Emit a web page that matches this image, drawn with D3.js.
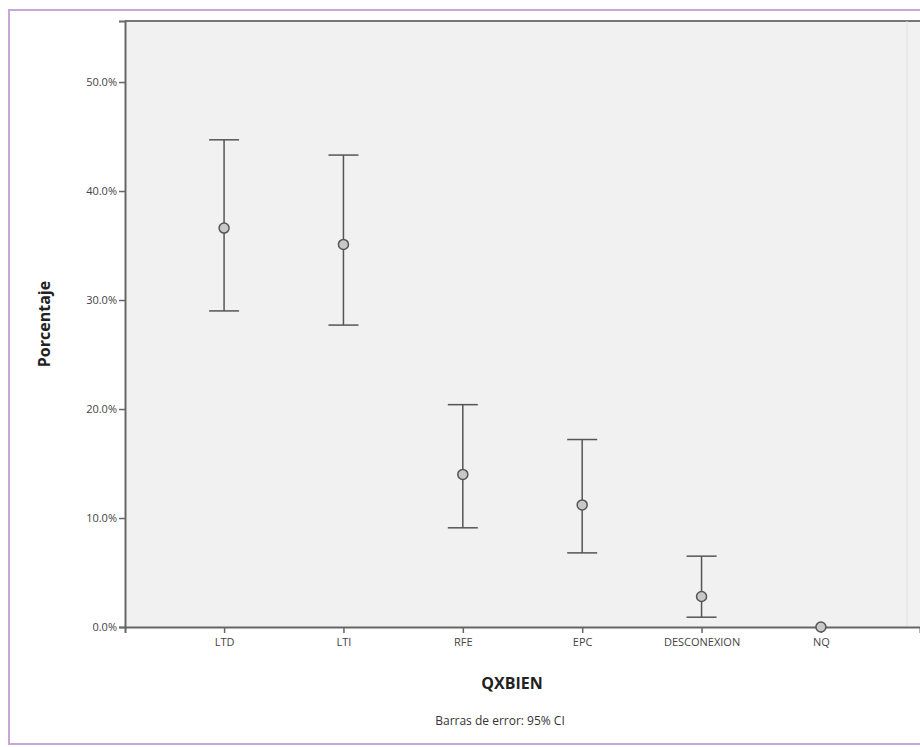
<!DOCTYPE html>
<html>
<head>
<meta charset="utf-8">
<script src="https://cdn.jsdelivr.net/npm/d3@7"></script>
<style>
  body { margin: 0; background: #fff; }
  svg { display: block; font-family: "Open Sans", sans-serif; }
</style>
</head>
<body>
<svg id="chart" width="920" height="747"></svg>
<script>
// data (percent)
const categories = ["LTD", "LTI", "RFE", "EPC", "DESCONEXION", "NQ"];
const means = [36.6, 35.1, 14.0, 11.2, 2.8, 0.0];
const lower = [29.0, 27.7, 9.1, 6.8, 0.9, 0.0];
const upper = [44.7, 43.3, 20.4, 17.2, 6.5, 0.0];
const yTicks = [0, 10, 20, 30, 40, 50];

const svg = d3.select("#chart");
const margins = { top: 21, right: 0, bottom: 120, left: 125 };
const width = 920, height = 747;
const plotW = width - margins.left - margins.right;
const plotH = height - margins.top - margins.bottom;

// outer frame
svg.append("rect")
    .attr("x", 9).attr("y", 10)
    .attr("width", 930).attr("height", 734)
    .attr("fill", "#fff")
    .attr("stroke", "#c9a6d8")
    .attr("stroke-width", 2);

const g = svg.append("g")
    .attr("transform", "translate(" + margins.left + "," + margins.top + ")");

const x = d3.scalePoint().domain(categories).range([0, plotW]).padding(0.83);
const y = d3.scaleLinear().domain([0, 55.6]).range([plotH, 0]);

// plot background
g.append("rect")
    .attr("width", plotW).attr("height", plotH)
    .attr("fill", "#f1f1f1");
g.append("line")
    .attr("x1", 0).attr("x2", plotW).attr("y1", 0).attr("y2", 0)
    .attr("stroke", "#777").attr("stroke-width", 2);
g.append("line")
    .attr("x1", 782).attr("x2", 782).attr("y1", 0).attr("y2", plotH)
    .attr("stroke", "#e2e2e2").attr("stroke-width", 1);

// axes
const yAxis = g.append("g")
    .call(d3.axisLeft(y).tickValues(yTicks).tickSize(6).tickPadding(2)
        .tickFormat(d => d.toFixed(1) + "%"));
const xAxis = g.append("g")
    .attr("transform", "translate(0," + plotH + ")")
    .call(d3.axisBottom(x).tickSize(6).tickPadding(5));

[yAxis, xAxis].forEach(a => {
    a.select(".domain").attr("stroke", "#666").attr("stroke-width", 2);
    a.selectAll(".tick line").attr("stroke", "#666").attr("stroke-width", 1.5);
    a.selectAll("text").attr("fill", "#444").attr("font-size", 11)
        .attr("font-family", "'Open Sans', sans-serif");
});

// error bars
const rows = categories.map((c, i) => ({ c, m: means[i], lo: lower[i], hi: upper[i] }));
const capW = 15;
const bars = g.selectAll("g.err").data(rows).join("g").attr("class", "err");
bars.append("line")
    .attr("x1", d => x(d.c)).attr("x2", d => x(d.c))
    .attr("y1", d => y(d.lo)).attr("y2", d => y(d.hi))
    .attr("stroke", "#555").attr("stroke-width", 1.5);
bars.filter(d => d.hi > d.lo).selectAll("line.cap")
    .data(d => [{ c: d.c, v: d.lo }, { c: d.c, v: d.hi }])
    .join("line").attr("class", "cap")
    .attr("x1", d => x(d.c) - capW).attr("x2", d => x(d.c) + capW)
    .attr("y1", d => y(d.v)).attr("y2", d => y(d.v))
    .attr("stroke", "#555").attr("stroke-width", 1.5);
bars.append("circle")
    .attr("cx", d => x(d.c)).attr("cy", d => y(d.m))
    .attr("r", 5)
    .attr("fill", "#c8c8c8")
    .attr("stroke", "#555").attr("stroke-width", 1.5);

// titles
svg.append("text")
    .attr("transform", "translate(50,324) rotate(-90)")
    .attr("text-anchor", "middle")
    .attr("font-size", 16).attr("font-weight", "bold").attr("fill", "#222")
    .text("Porcentaje");
svg.append("text")
    .attr("x", 512).attr("y", 689)
    .attr("text-anchor", "middle")
    .attr("font-size", 16).attr("font-weight", "bold").attr("fill", "#222")
    .text("QXBIEN");
svg.append("text")
    .attr("x", 500).attr("y", 725)
    .attr("text-anchor", "middle")
    .attr("font-size", 12).attr("fill", "#333")
    .text("Barras de error: 95% CI");
</script>
</body>
</html>
